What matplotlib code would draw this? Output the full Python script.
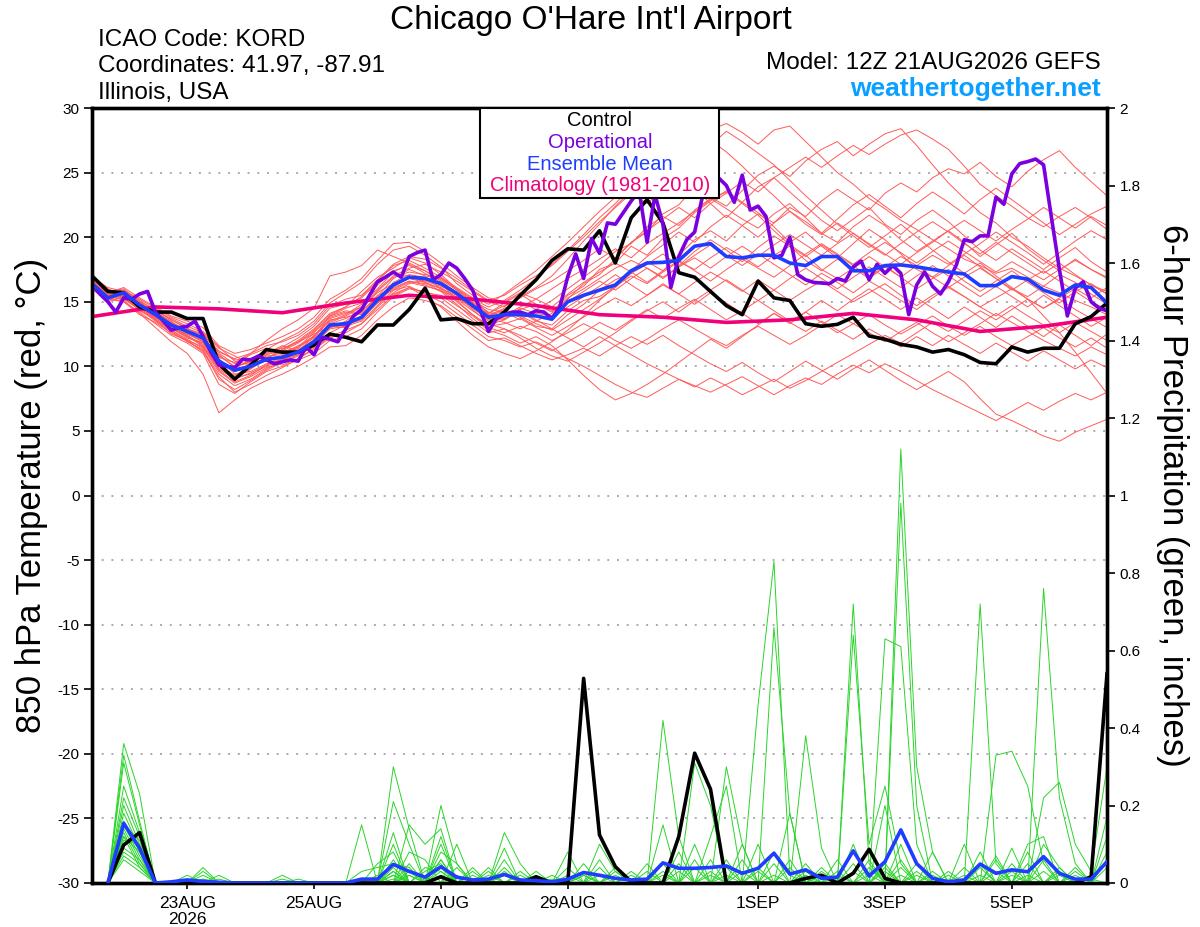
import numpy as np
import pandas as pd
import matplotlib
matplotlib.use('Agg')
import matplotlib.pyplot as plt
from matplotlib.patches import Rectangle

plt.rcParams['font.family'] = ['Liberation Sans', 'DejaVu Sans']
plt.rcParams['axes.unicode_minus'] = False

# ---------------- data ----------------
start = '2026-08-21 12:00'
steps = pd.date_range(start, periods=65, freq='6h')      # GEFS 6-hourly
steps_3h = pd.date_range(start, periods=129, freq='3h')  # operational 3-hourly
clim_days = pd.date_range(start, periods=17, freq='1D')

tick_days = ['2026-08-23', '2026-08-25', '2026-08-27', '2026-08-29',
             '2026-09-01', '2026-09-03', '2026-09-05']

# 850 hPa temperature (C)
control_t = [17.0, 15.8, 15.7, 14.6, 14.2, 14.2, 13.7, 13.7, 10.2, 9.0,
             10.1, 11.3, 11.1, 11.1, 11.65, 12.5, 12.25, 11.9, 13.2, 13.2,
             14.4, 16.05, 13.6, 13.7, 13.3, 13.3, 14.2, 15.5, 16.7, 18.2,
             19.1, 19.0, 20.5, 18.0, 21.5, 22.9, 21.1, 17.25, 16.9, 15.8,
             14.7, 14.0, 16.6, 15.3, 15.1, 13.3, 13.1, 13.25, 13.8, 12.35,
             12.1, 11.7, 11.5, 11.1, 11.3, 10.9, 10.3, 10.2, 11.5, 11.1,
             11.4, 11.4, 13.3, 13.85, 14.9]

mean_t = [16.4, 15.3, 15.7, 14.75, 14.0, 13.2, 12.7, 12.2, 10.4, 9.7,
          10.0, 10.55, 10.7, 11.1, 11.9, 13.2, 13.3, 13.8, 15.15, 16.3,
          16.9, 16.8, 16.4, 15.65, 14.7, 13.8, 14.0, 14.0, 13.9, 13.65,
          15.0, 15.5, 15.9, 16.3, 17.4, 18.0, 18.05, 18.2, 19.3, 19.5,
          18.5, 18.4, 18.6, 18.6, 18.0, 17.8, 18.5, 18.5, 17.4, 17.4,
          17.8, 17.85, 17.7, 17.5, 17.3, 17.15, 16.25, 16.25, 16.95, 16.75,
          15.9, 15.5, 16.3, 16.1, 14.9]

oper_t = [16.3, 15.6, 15.0, 14.2, 15.3, 15.2, 15.6, 15.8, 14.2, 13.5,
          12.8, 13.0, 13.1, 13.5, 12.3, 11.1, 10.1, 10.0, 9.9, 10.55,
          10.5, 10.8, 10.5, 10.2, 10.35, 10.5, 10.4, 11.5, 10.9, 12.25,
          12.1, 11.9, 12.9, 13.9, 14.4, 15.5, 16.55, 16.9, 17.3, 16.9,
          18.5, 18.8, 19.0, 16.7, 17.1, 18.0, 17.6, 16.8, 15.9, 14.3,
          12.7, 13.7, 14.0, 14.2, 14.2, 14.0, 14.3, 14.2, 13.7, 14.6,
          16.95, 18.7, 16.8, 19.9, 18.75, 21.1, 21.0, 21.9, 22.8, 23.6,
          19.6, 23.3, 21.0, 16.1, 18.5, 19.8, 20.4, 23.2, 24.5, 24.6,
          24.0, 22.7, 24.8, 22.1, 22.4, 21.6, 18.4, 18.6, 20.0, 17.1,
          16.7, 16.5, 16.45, 16.4, 16.8, 16.6, 17.7, 18.15, 16.7, 17.9,
          17.2, 17.8, 17.2, 14.0, 16.3, 17.3, 16.2, 15.6, 16.55, 17.85,
          19.8, 19.65, 20.1, 20.1, 23.1, 22.55, 24.9, 25.7, 25.85, 26.05,
          25.6, 21.5, 17.5, 13.9, 16.05, 16.55, 15.0, 14.5, 14.3]

clim_t = [13.85, 14.6, 14.45, 14.15, 14.9, 15.5, 15.2, 14.7, 14.0,
          13.8, 13.4, 13.6, 14.1, 13.6, 12.7, 13.1, 13.8]

members_t = [
    [16.8, 15.9, 15.2, 14.6, 13.8, 13.1, 12.4, 11.6, 10.1, 9.0, 9.8, 10.6, 11.3, 11.9, 12.8, 14.0,
     14.6, 15.8, 16.9, 17.6, 18.4, 18.0, 17.1, 16.0, 15.2, 14.6, 15.1, 15.9, 16.8, 17.9, 19.0, 20.2,
     21.5, 22.6, 23.9, 25.1, 26.0, 26.8, 27.5, 28.3, 28.8, 28.1, 27.2, 28.3, 28.6, 27.4, 26.2, 25.0,
     24.1, 23.0, 22.2, 21.3, 20.6, 19.8, 19.1, 18.3, 17.8, 17.2, 17.6, 16.9, 16.2, 15.7, 15.1, 14.6, 14.0],
    [16.2, 15.5, 15.9, 15.1, 14.3, 13.6, 12.9, 12.5, 11.0, 10.2, 10.9, 11.4, 11.0, 11.6, 12.3, 13.9,
     14.5, 14.9, 16.0, 17.3, 17.9, 17.2, 16.5, 15.1, 14.0, 13.2, 13.6, 14.5, 14.1, 13.9, 15.2, 16.4,
     17.1, 18.3, 19.6, 20.4, 21.8, 22.5, 23.9, 23.1, 22.4, 23.6, 24.8, 25.5, 24.7, 25.9, 26.8, 27.4,
     26.3, 27.2, 28.0, 28.4, 27.1, 25.6, 24.2, 23.0, 21.9, 21.1, 20.0, 19.3, 18.4, 17.6, 17.0, 16.3, 15.8],
    [16.0, 15.1, 15.6, 14.9, 14.1, 13.4, 12.8, 12.0, 10.6, 9.4, 9.6, 10.2, 10.5, 10.9, 11.5, 12.6,
     13.2, 13.6, 15.0, 16.2, 17.0, 16.6, 16.2, 15.6, 14.9, 13.9, 14.3, 13.8, 13.1, 12.9, 14.0, 14.8,
     15.9, 16.7, 17.2, 18.1, 17.4, 18.6, 19.8, 20.5, 19.7, 20.9, 21.8, 21.1, 22.3, 21.6, 22.8, 23.7,
     22.9, 22.1, 23.4, 24.2, 23.5, 24.6, 25.3, 24.9, 25.8, 24.7, 23.9, 25.1, 26.0, 26.7, 25.4, 24.3, 23.2],
    [16.6, 15.7, 15.3, 14.5, 13.9, 13.0, 12.2, 11.8, 10.3, 9.9, 10.4, 11.0, 11.6, 11.2, 12.0, 13.4,
     13.9, 14.6, 15.9, 17.0, 17.6, 17.9, 17.3, 16.6, 15.8, 15.0, 14.6, 15.4, 16.1, 17.0, 18.3, 19.7,
     21.0, 22.4, 23.6, 24.8, 25.5, 24.9, 23.8, 22.6, 21.5, 22.7, 21.9, 20.8, 19.6, 20.4, 19.3, 18.4,
     19.5, 20.6, 19.8, 18.7, 17.5, 16.9, 17.8, 18.6, 17.7, 16.8, 16.0, 15.4, 16.2, 17.1, 16.5, 15.6, 14.8],
    [16.3, 15.4, 15.8, 14.8, 14.0, 13.3, 12.6, 12.3, 10.8, 10.0, 10.3, 10.9, 11.2, 11.8, 12.7, 13.8,
     14.2, 14.0, 15.4, 16.8, 17.5, 17.0, 16.8, 16.0, 15.1, 14.4, 14.2, 13.6, 14.4, 15.1, 16.0, 16.9,
     17.8, 18.9, 19.5, 20.8, 21.6, 20.9, 22.1, 23.0, 22.2, 21.4, 20.7, 21.8, 22.6, 21.5, 20.3, 19.6,
     20.8, 21.7, 20.9, 19.8, 18.9, 19.7, 20.5, 19.6, 18.5, 19.4, 20.3, 19.1, 18.2, 17.4, 18.3, 17.5, 16.9],
    [16.9, 16.0, 15.4, 14.4, 13.6, 12.8, 12.1, 11.4, 9.6, 8.7, 9.2, 9.9, 10.3, 10.8, 11.6, 13.0,
     13.5, 14.4, 15.8, 16.9, 17.3, 17.1, 16.9, 16.1, 15.3, 14.1, 14.9, 15.6, 14.8, 14.2, 15.5, 16.2,
     17.5, 18.0, 19.3, 18.6, 19.9, 20.7, 21.9, 22.8, 23.6, 22.7, 23.9, 24.6, 23.5, 22.4, 21.3, 20.5,
     21.4, 22.3, 21.0, 20.2, 21.3, 22.1, 21.2, 20.1, 19.0, 18.2, 19.1, 18.3, 17.5, 18.4, 19.2, 18.1, 17.3],
    [16.1, 15.2, 15.7, 14.6, 13.9, 13.2, 12.9, 12.4, 11.2, 10.5, 10.6, 11.1, 11.4, 11.9, 12.5, 13.1,
     13.0, 13.9, 15.2, 16.5, 17.1, 16.9, 16.0, 15.2, 14.3, 13.5, 13.7, 14.2, 13.5, 13.2, 14.3, 15.1,
     15.4, 16.2, 17.0, 16.4, 17.3, 18.1, 17.5, 18.4, 19.2, 18.5, 17.7, 18.6, 19.3, 18.2, 17.4, 18.3,
     17.6, 16.8, 17.7, 18.5, 17.8, 16.9, 16.1, 16.9, 17.6, 16.8, 15.9, 16.7, 17.4, 16.6, 15.8, 16.4, 15.6],
    [16.5, 15.6, 15.9, 15.2, 14.5, 13.8, 13.3, 12.7, 11.5, 10.4, 10.1, 10.7, 11.1, 11.5, 12.2, 13.6,
     13.8, 14.2, 15.5, 16.0, 16.6, 16.3, 15.8, 15.4, 14.6, 13.7, 13.4, 12.9, 13.5, 14.1, 15.3, 16.0,
     16.8, 17.6, 18.2, 17.6, 16.8, 17.7, 18.6, 19.4, 18.6, 17.8, 18.7, 17.9, 17.1, 16.3, 17.2, 16.5,
     15.7, 16.6, 15.9, 15.1, 14.4, 15.3, 16.1, 15.4, 14.6, 13.9, 14.7, 13.9, 13.2, 12.6, 13.4, 12.7, 12.0],
    [16.4, 15.3, 15.5, 14.7, 14.2, 13.5, 12.5, 11.9, 10.0, 9.3, 10.0, 10.8, 10.9, 11.4, 12.4, 13.5,
     14.0, 14.8, 16.3, 17.4, 17.8, 17.4, 16.7, 15.9, 15.0, 14.2, 13.9, 14.6, 15.2, 16.0, 16.8, 17.5,
     18.3, 19.1, 18.4, 19.5, 20.3, 21.1, 22.0, 22.9, 23.5, 22.6, 21.7, 20.5, 19.4, 18.6, 17.5, 16.8,
     17.6, 18.5, 17.7, 16.9, 17.8, 18.6, 17.9, 18.7, 19.5, 20.4, 19.6, 18.8, 17.9, 18.8, 19.7, 20.5, 19.8],
    [16.7, 15.8, 16.0, 15.0, 14.1, 13.1, 12.7, 12.6, 11.4, 10.8, 10.2, 10.4, 10.1, 10.6, 11.3, 12.2,
     12.6, 13.3, 14.6, 15.7, 16.4, 16.7, 16.3, 15.7, 14.8, 14.0, 14.4, 13.9, 13.3, 12.8, 13.6, 14.4,
     15.2, 16.1, 17.2, 17.9, 18.7, 17.8, 18.9, 19.8, 19.0, 18.1, 19.2, 20.1, 19.3, 18.5, 19.4, 18.6,
     17.8, 16.9, 17.8, 16.9, 16.0, 16.8, 17.5, 16.6, 15.8, 16.6, 17.4, 16.5, 15.7, 14.9, 15.8, 15.0, 14.4],
    [16.0, 15.0, 15.4, 14.3, 13.7, 12.9, 12.3, 11.7, 9.8, 9.0, 9.5, 10.1, 10.6, 11.0, 11.8, 12.9,
     13.1, 13.5, 14.7, 15.9, 16.5, 16.2, 15.9, 15.0, 14.0, 13.1, 13.3, 13.7, 13.0, 12.4, 13.1, 13.8,
     14.6, 15.3, 14.7, 15.5, 16.3, 15.6, 16.5, 17.3, 16.6, 15.8, 16.7, 15.9, 15.1, 15.9, 16.6, 15.8,
     15.0, 15.7, 16.4, 15.5, 14.7, 15.5, 16.2, 15.4, 14.6, 15.3, 16.0, 15.2, 14.5, 15.2, 14.4, 13.7, 13.0],
    [16.2, 15.2, 15.0, 14.2, 13.3, 12.4, 11.8, 11.0, 8.6, 7.9, 8.8, 9.6, 10.0, 10.5, 11.0, 12.0,
     12.3, 12.9, 14.2, 15.4, 16.0, 15.8, 15.3, 14.4, 13.5, 12.6, 12.9, 12.4, 11.8, 11.2, 11.9, 12.6,
     13.4, 12.8, 13.6, 14.4, 13.7, 14.5, 15.2, 14.4, 13.6, 14.3, 15.1, 14.3, 13.5, 14.2, 13.4, 12.6,
     13.3, 14.0, 13.2, 12.5, 13.2, 13.9, 13.1, 12.4, 13.1, 12.3, 11.6, 12.3, 13.0, 12.2, 11.5, 12.2, 11.4],
    [16.6, 15.5, 15.1, 14.1, 13.0, 11.9, 11.0, 9.4, 6.4, 7.4, 8.3, 8.9, 9.4, 10.0, 10.7, 11.5,
     11.6, 12.4, 13.6, 14.6, 15.3, 15.1, 14.7, 13.8, 12.9, 12.0, 12.2, 11.6, 11.0, 10.5, 10.9, 11.4,
     10.8, 11.6, 12.3, 11.7, 12.4, 11.6, 10.9, 10.2, 9.6, 10.3, 9.5, 8.8, 9.6, 10.4, 9.7, 9.0,
     9.8, 10.5, 9.7, 8.9, 8.2, 8.9, 9.6, 8.8, 7.5, 6.3, 5.8, 5.2, 4.6, 4.2, 4.9, 5.4, 5.9],
    [16.3, 15.4, 15.2, 14.4, 13.5, 12.7, 11.9, 11.3, 9.0, 8.2, 8.9, 9.7, 10.3, 10.9, 11.9, 13.3,
     13.7, 14.3, 15.3, 15.9, 16.2, 15.6, 15.0, 14.1, 13.2, 12.3, 12.0, 11.5, 11.9, 11.3, 10.6, 10.0,
     9.3, 8.6, 8.0, 7.6, 8.3, 9.0, 8.5, 8.0, 8.6, 9.2, 8.5, 7.8, 8.5, 9.1, 8.6, 9.4,
     10.1, 9.5, 10.2, 9.6, 8.9, 8.2, 7.6, 7.0, 6.4, 5.8, 6.5, 7.2, 6.6, 7.3, 7.9, 7.4, 8.0],
    [16.8, 15.9, 15.6, 14.7, 13.6, 12.5, 12.0, 11.2, 9.4, 8.5, 9.0, 9.8, 10.4, 11.2, 12.1, 13.2,
     13.4, 13.8, 14.9, 15.6, 16.1, 15.7, 15.5, 14.7, 13.9, 13.0, 12.6, 13.1, 12.7, 12.0, 12.6, 13.3,
     12.7, 12.0, 11.4, 12.1, 12.9, 13.6, 12.9, 12.2, 11.6, 12.4, 13.1, 12.4, 11.7, 12.4, 13.2, 14.0,
     13.3, 12.6, 11.9, 12.7, 13.4, 12.6, 11.9, 12.6, 13.3, 14.1, 13.4, 12.7, 12.0, 11.4, 10.8, 11.5, 10.9],
    [16.5, 15.7, 16.1, 15.3, 14.6, 13.9, 13.5, 13.0, 11.6, 11.0, 11.3, 11.8, 12.3, 12.9, 13.8, 15.2,
     15.9, 16.8, 18.2, 19.5, 19.6, 18.9, 18.0, 17.0, 16.1, 15.3, 15.0, 15.7, 15.2, 14.6, 15.6, 16.5,
     17.3, 18.0, 17.3, 16.5, 17.4, 18.2, 17.4, 16.6, 17.5, 18.3, 17.6, 16.9, 17.8, 18.7, 19.5, 18.7,
     17.9, 18.8, 19.6, 18.8, 18.0, 18.9, 19.7, 18.9, 18.1, 17.3, 18.1, 17.4, 16.7, 17.5, 18.2, 17.5, 16.8],
    [16.1, 15.3, 15.6, 14.9, 14.2, 13.4, 12.8, 12.2, 10.5, 9.8, 10.1, 10.4, 10.8, 11.3, 12.0, 13.0,
     13.2, 13.7, 14.9, 16.1, 16.6, 16.4, 16.1, 15.3, 14.5, 13.6, 13.8, 14.4, 14.8, 14.3, 15.0, 15.8,
     16.6, 15.9, 16.8, 17.6, 16.9, 17.7, 18.4, 17.6, 18.5, 19.3, 18.5, 19.4, 20.2, 19.4, 18.6, 19.5,
     20.3, 19.5, 18.7, 17.9, 18.8, 19.6, 20.5, 21.3, 20.5, 19.7, 20.6, 21.4, 22.3, 21.5, 20.7, 21.6, 20.9],
    [16.4, 15.5, 15.3, 14.5, 13.8, 13.0, 12.4, 11.5, 9.9, 9.1, 9.4, 10.0, 10.5, 11.2, 12.3, 13.7,
     14.1, 14.6, 15.7, 16.4, 16.8, 16.5, 15.8, 14.8, 13.7, 12.8, 12.4, 11.8, 12.3, 11.6, 10.5, 9.3,
     8.2, 7.4, 7.9, 8.6, 9.4, 10.3, 11.2, 12.1, 11.4, 12.3, 13.2, 14.1, 13.3, 14.2, 15.1, 14.3,
     15.2, 16.0, 15.2, 14.4, 15.3, 14.5, 13.7, 14.6, 13.8, 13.0, 13.9, 13.1, 12.3, 13.2, 12.4, 11.6, 12.5],
    [16.7, 15.8, 15.5, 14.8, 14.3, 13.7, 13.1, 12.6, 11.1, 10.6, 11.0, 11.6, 11.9, 12.4, 13.3, 14.7,
     15.2, 15.5, 16.7, 17.9, 18.5, 18.3, 17.6, 16.8, 15.9, 15.1, 15.5, 16.3, 17.0, 17.8, 18.9, 20.0,
     21.2, 22.3, 23.4, 22.6, 23.7, 24.9, 26.0, 27.1, 28.2, 27.4, 26.5, 25.6, 24.4, 23.2, 22.1, 21.0,
     20.1, 19.2, 20.1, 21.0, 20.0, 19.0, 18.1, 17.2, 18.0, 17.0, 16.1, 15.2, 13.9, 12.6, 11.1, 9.5, 7.9],
    [16.2, 15.1, 15.7, 15.0, 14.4, 13.6, 13.0, 12.1, 10.2, 9.6, 10.2, 10.9, 11.5, 12.2, 13.1, 14.5,
     14.8, 15.3, 16.5, 17.2, 17.0, 16.5, 16.0, 15.5, 14.4, 13.3, 12.9, 12.2, 11.4, 10.8, 10.4, 11.1,
     11.8, 12.6, 13.5, 14.3, 15.0, 14.2, 15.1, 15.9, 16.7, 15.9, 15.1, 15.9, 16.8, 17.6, 16.8, 16.0,
     16.9, 17.7, 16.9, 16.1, 17.0, 17.8, 17.0, 16.2, 15.4, 16.2, 15.4, 14.6, 15.5, 14.7, 13.9, 13.1, 13.8],
    [16.6, 15.6, 15.4, 14.6, 13.9, 13.0, 12.3, 11.8, 10.7, 10.3, 11.0, 12.0, 12.9, 13.6, 14.5, 17.0,
     17.3, 17.8, 19.0, 18.5, 18.0, 17.4, 16.6, 15.7, 14.8, 14.1, 14.7, 15.3, 16.0, 16.6, 17.4, 18.2,
     19.1, 18.4, 19.6, 20.5, 21.4, 22.3, 21.5, 22.6, 23.4, 24.3, 23.5, 24.6, 25.4, 26.2, 25.4, 26.3,
     27.1, 26.4, 27.2, 27.9, 28.3, 27.6, 26.8, 25.5, 24.1, 23.2, 22.4, 21.5, 20.8, 21.6, 22.3, 21.5, 20.6],
    [16.0, 15.2, 15.5, 14.5, 13.7, 12.8, 12.0, 11.1, 9.2, 8.0, 8.6, 9.3, 9.9, 10.6, 11.4, 12.3,
     12.8, 13.3, 14.4, 15.5, 16.1, 15.4, 14.6, 13.5, 12.4, 11.5, 11.0, 10.6, 11.2, 11.9, 12.8, 13.9,
     15.1, 16.2, 17.4, 18.5, 19.4, 20.4, 19.6, 20.8, 21.7, 20.9, 20.0, 21.1, 22.0, 21.2, 20.3, 21.4,
     22.5, 23.3, 22.4, 21.5, 22.6, 23.5, 22.7, 21.8, 22.9, 23.8, 22.9, 22.0, 21.1, 20.2, 21.0, 21.8, 22.4],
    [16.5, 15.6, 15.8, 14.9, 14.0, 13.2, 12.6, 11.9, 10.1, 9.2, 9.8, 10.6, 11.3, 12.0, 12.9, 14.1,
     14.6, 15.4, 16.6, 17.8, 18.2, 17.6, 16.9, 15.9, 14.9, 14.0, 13.6, 14.3, 13.6, 12.9, 12.2, 11.5,
     12.3, 11.6, 10.9, 10.2, 9.6, 9.0, 8.4, 9.1, 8.5, 7.8, 8.4, 9.0, 8.3, 8.9, 9.6, 10.3,
     11.0, 11.7, 12.4, 11.8, 12.6, 13.4, 12.7, 13.5, 14.3, 13.6, 14.4, 15.2, 14.5, 15.3, 16.0, 15.3, 16.1],
    [16.9, 16.1, 15.8, 15.0, 14.0, 13.0, 12.5, 12.0, 10.9, 9.9, 10.5, 11.3, 12.0, 12.6, 13.5, 14.9,
     15.7, 16.5, 17.9, 19.0, 19.3, 18.6, 17.7, 16.4, 15.5, 14.8, 15.6, 16.5, 17.4, 18.5, 19.6, 20.8,
     22.0, 23.1, 24.2, 25.3, 26.4, 25.6, 26.7, 27.5, 26.6, 25.5, 24.3, 23.2, 22.0, 21.0, 20.2, 21.1,
     20.3, 19.4, 18.6, 19.5, 20.4, 21.2, 20.4, 19.5, 18.7, 19.6, 18.8, 18.0, 17.2, 18.0, 17.1, 16.3, 15.6],
    [16.3, 15.3, 15.0, 14.0, 13.4, 12.6, 12.0, 11.5, 9.7, 8.8, 9.3, 10.1, 10.8, 11.5, 12.6, 13.9,
     14.3, 14.1, 15.1, 16.2, 16.9, 16.8, 16.4, 15.6, 14.7, 13.9, 14.5, 15.0, 14.4, 13.8, 14.6, 15.4,
     16.2, 17.1, 16.3, 15.5, 16.4, 15.6, 14.8, 15.7, 14.9, 14.1, 13.3, 14.1, 13.4, 12.7, 13.5, 12.8,
     12.1, 12.9, 12.2, 11.5, 12.3, 11.6, 12.4, 11.7, 11.0, 11.8, 11.1, 10.4, 11.2, 10.5, 9.8, 10.5, 9.9],
]

# 6-hour precipitation (inches), steps 1..64
control_p = [0, .098, .13, 0, 0, 0, 0, 0, 0, 0,
             0, 0, 0, 0, 0, 0, 0, 0, 0, 0,
             0, .016, 0, 0, 0, 0, 0, .016, 0, 0,
             .528, .124, .042, .003, 0, 0, .12, .335, .242, 0,
             0, 0, 0, 0, .012, .02, 0, .025, .087, .012,
             0, 0, 0, 0, 0, 0, 0, 0, 0, 0,
             0, 0, .016, .54]

mean_p = [0, .154, .09, 0, .003, .008, .004, .002, 0, 0,
          0, 0, 0, 0, 0, 0, .01, .01, .048, .03,
          .015, .042, .015, .008, .01, .022, .008, .006, .003, .01,
          .027, .02, .012, .008, .01, .052, .038, .038, .04, .044,
          .025, .038, .077, .023, .034, .012, .015, .083, .018, .055,
          .137, .05, .012, .003, .008, .049, .025, .034, .029, .068,
          .025, .01, .01, .055]

# members: {step: inches}, other steps dry
members_p = [
    {2: .36, 3: .23, 19: .30, 20: .14, 22: .06, 36: .42, 37: .12, 42: .46, 43: .83, 44: .02, 51: .10, 60: .76, 61: .22, 62: .05},
    {2: .33, 3: .16, 17: .15, 19: .21, 20: .10, 23: .10, 38: .31, 39: .20, 43: .66, 44: .18, 48: .72, 49: .05, 57: .33, 58: .34, 59: .25, 60: .05},
    {2: .31, 3: .15, 19: .13, 22: .20, 23: .05, 31: .05, 40: .30, 41: .10, 45: .38, 46: .09, 51: 1.12, 52: .30, 53: .08, 64: .17},
    {2: .25, 3: .13, 7: .04, 20: .15, 21: .10, 22: .14, 26: .13, 27: .05, 39: .12, 40: .25, 48: .64, 49: .10, 50: .25, 51: .05, 56: .72, 57: .05},
    {2: .22, 3: .12, 12: .02, 19: .10, 22: .12, 24: .04, 30: .08, 36: .15, 42: .10, 51: .98, 52: .20, 60: .22, 61: .26, 62: .10, 63: .03, 64: .30},
    {2: .20, 3: .10, 7: .03, 18: .05, 19: .08, 22: .10, 26: .09, 32: .10, 33: .03, 37: .08, 44: .18, 50: .63, 51: .61, 52: .10, 59: .08},
    {2: .18, 3: .09, 6: .02, 20: .08, 21: .06, 25: .04, 31: .02, 38: .10, 41: .10, 48: .10, 50: .20, 53: .08, 55: .10, 58: .05, 64: .12},
    {2: .16, 3: .08, 8: .02, 19: .06, 22: .08, 23: .05, 28: .03, 35: .05, 40: .06, 45: .05, 47: .06, 51: .06, 56: .05, 60: .10, 61: .04},
    {2: .15, 3: .07, 17: .03, 18: .04, 19: .05, 20: .04, 22: .06, 26: .06, 33: .04, 39: .06, 43: .08, 49: .06, 54: .03, 57: .06, 62: .04},
    {2: .14, 3: .06, 7: .02, 19: .04, 21: .03, 22: .05, 27: .03, 30: .02, 36: .05, 42: .04, 46: .04, 52: .05, 56: .08, 59: .10, 60: .12},
    {2: .13, 3: .05, 13: .01, 20: .03, 23: .04, 26: .04, 32: .06, 37: .05, 41: .03, 45: .02, 50: .05, 55: .04, 58: .09, 61: .03},
    {2: .12, 3: .04, 19: .03, 22: .04, 24: .03, 29: .02, 34: .02, 38: .04, 44: .06, 48: .05, 52: .03, 57: .07, 63: .02, 64: .05},
    {2: .11, 3: .10, 7: .01, 18: .02, 20: .05, 25: .02, 31: .03, 36: .03, 40: .04, 46: .03, 51: .04, 53: .03, 59: .05, 62: .02},
    {2: .10, 3: .12, 19: .02, 21: .04, 22: .03, 26: .02, 33: .02, 39: .03, 43: .05, 47: .02, 50: .03, 56: .04, 60: .06},
    {2: .09, 3: .06, 8: .01, 20: .02, 22: .02, 27: .02, 32: .04, 41: .06, 45: .03, 49: .04, 54: .02, 58: .03, 61: .04, 64: .08},
    {2: .08, 3: .05, 19: .02, 23: .02, 30: .04, 35: .03, 38: .06, 44: .04, 48: .03, 52: .02, 57: .03, 62: .03},
    {2: .07, 3: .04, 12: .01, 22: .02, 26: .03, 31: .02, 37: .03, 42: .03, 46: .02, 50: .04, 55: .02, 60: .03, 63: .01},
    {2: .06, 3: .03, 19: .01, 24: .02, 29: .01, 34: .03, 39: .02, 45: .01, 51: .02, 56: .02, 59: .02},
    {2: .12, 3: .08, 20: .02, 22: .03, 28: .02, 33: .03, 40: .02, 47: .03, 53: .02, 58: .02, 64: .04},
    {2: .15, 3: .11, 7: .01, 19: .03, 25: .03, 32: .02, 36: .02, 43: .02, 49: .02, 54: .01, 61: .02, 64: .06},
]

# ---------------- colours ----------------
c_member_t = '#ff5a5a'
c_member_p = '#2ad42a'
c_oper = '#7a00e0'
c_mean = '#1f3dff'
c_clim = '#f0007a'
c_site = '#0aa0ff'


def expand(events, n=64):
    vals = np.zeros(n)
    for k, v in events.items():
        vals[k - 1] = v
    return vals


fig = plt.figure(figsize=(12, 9.27), dpi=100)
ax = fig.add_axes([92 / 1200, 1 - 883 / 927, 1015 / 1200, 775 / 927])
ax2 = ax.twinx()

# temperature plume
for m in members_t:
    ax.plot(steps[:len(m)], m, color=c_member_t, lw=0.7, zorder=2)
ax.plot(clim_days, clim_t, color=c_clim, lw=2.6, zorder=4)
ax.plot(steps, control_t, color='black', lw=2.6, zorder=5)
ax.plot(steps_3h, oper_t, color=c_oper, lw=2.6, zorder=6)
ax.plot(steps, mean_t, color=c_mean, lw=2.6, zorder=7)

for v in range(-25, 30, 5):
    ax.axhline(v, color='#aaaaaa', lw=1.4, ls=(0, (1, 4)), zorder=1)

ax.set_ylim(-30, 30)
ax.set_yticks(range(-30, 31, 5))
ax.set_xlim(steps[0], steps[-1])

# precipitation plume
psteps = steps[1:]
for m in members_p:
    ax2.plot(psteps, expand(m), color=c_member_p, lw=0.7, zorder=2)
ax2.plot(psteps, control_p, color='black', lw=2.6, zorder=5)
ax2.plot(psteps, mean_p, color=c_mean, lw=2.6, zorder=6)
ax2.set_ylim(0, 2)
ax2.set_yticks(np.arange(0, 2.01, 0.2))
ax2.set_yticklabels(['0', '0.2', '0.4', '0.6', '0.8', '1', '1.2', '1.4', '1.6', '1.8', '2'])

ticks = pd.to_datetime(tick_days)
ax.set_xticks(ticks)
labels = [f"{d.day}{d.strftime('%b').upper()}" for d in ticks]
labels[0] = labels[0] + '\n2026'
ax.set_xticklabels(labels, fontsize=12.5, linespacing=1.15)

for a in (ax, ax2):
    for s in a.spines.values():
        s.set_linewidth(2.4)
ax.tick_params(axis='y', direction='out', length=6, width=1.2, labelsize=11, pad=3)
ax.tick_params(axis='x', direction='out', length=4, width=1.2, pad=5)
ax2.tick_params(axis='y', direction='out', length=6, width=1.2, labelsize=11, pad=3)

# legend box
ax2.add_patch(Rectangle((0.382, 0.884), 0.236, 0.116, transform=ax2.transAxes,
                        facecolor='white', edgecolor='black', lw=1.5, zorder=10))
leg = [('Control', 'black'), ('Operational', c_oper),
       ('Ensemble Mean', c_mean), ('Climatology (1981-2010)', c_clim)]
for k, (txt, col) in enumerate(leg):
    fig.text(600 / 1200, 1 - (121 + k * 21.5) / 927, txt, color=col, fontsize=14.5,
             ha='center', va='center', zorder=11)

# header texts
fig.text(591 / 1200, 1 - 20 / 927, "Chicago O'Hare Int'l Airport", fontsize=24,
         ha='center', va='center')
fig.text(98 / 1200, 1 - 40 / 927, 'ICAO Code: KORD', fontsize=17.5, va='center')
fig.text(98 / 1200, 1 - 66 / 927, 'Coordinates: 41.97, -87.91', fontsize=17.5, va='center')
fig.text(98 / 1200, 1 - 93 / 927, 'Illinois, USA', fontsize=17.5, va='center')
fig.text(1101 / 1200, 1 - 63 / 927, 'Model: 12Z 21AUG2026 GEFS', fontsize=17.5,
         ha='right', va='center')
fig.text(1101 / 1200, 1 - 89 / 927, 'weathertogether.net', fontsize=19, fontweight='bold',
         color=c_site, ha='right', va='center')

fig.text(32 / 1200, 1 - 495 / 927, '850 hPa Temperature (red, °C)', fontsize=25,
         rotation=90, ha='center', va='center')
fig.text(1172 / 1200, 1 - 495 / 927, '6-hour Precipitation (green, inches)', fontsize=25,
         rotation=-90, ha='center', va='center')

fig.savefig('out.png', dpi=100)
